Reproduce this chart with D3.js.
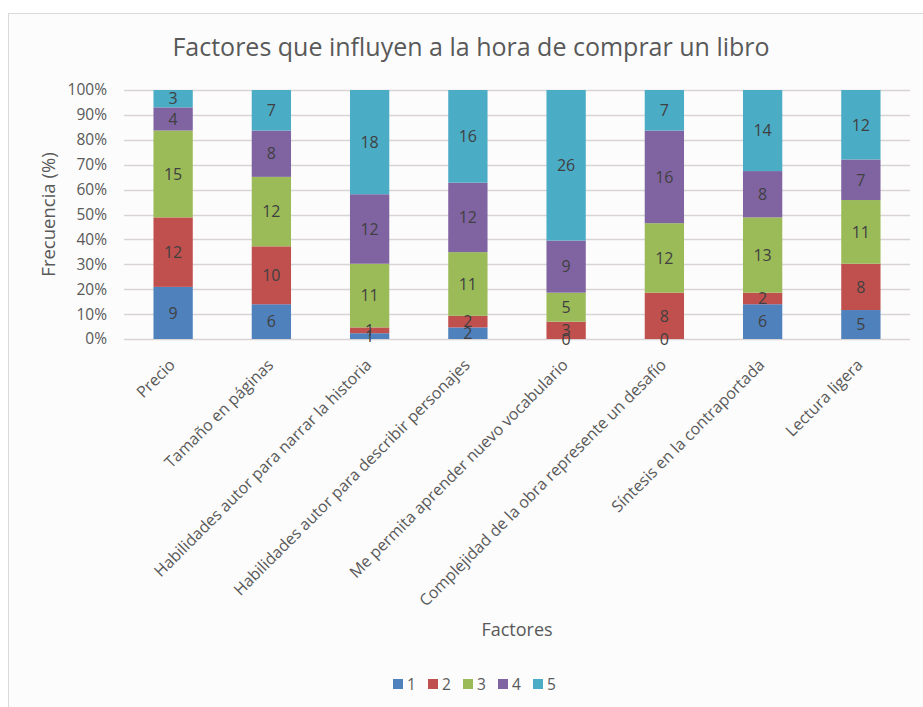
<!DOCTYPE html>
<html>
<head>
<meta charset="utf-8">
<script src="https://cdn.jsdelivr.net/npm/d3@7"></script>
<style>
  body { margin: 0; background: #ffffff; }
  text { font-family: 'Open Sans', sans-serif; }
</style>
</head>
<body>
<div id="chart"></div>
<script>
// categories on the x axis
const factores = [
    'Precio',
    'Tamaño en páginas',
    'Habilidades autor para narrar la historia',
    'Habilidades autor para describir personajes',
    'Me permita aprender nuevo vocabulario',
    'Complejidad de la obra represente un desafío',
    'Síntesis en la contraportada',
    'Lectura ligera'
];

// one array per rating (1 to 5)
const serie1 = [9, 6, 1, 2, 0, 0, 6, 5];
const serie2 = [12, 10, 1, 2, 3, 8, 2, 8];
const serie3 = [15, 12, 11, 11, 5, 12, 13, 11];
const serie4 = [4, 8, 12, 12, 9, 16, 8, 7];
const serie5 = [3, 7, 18, 16, 26, 7, 14, 12];

const seriesNames = ['1', '2', '3', '4', '5'];
const seriesColors = ['#4f81bd', '#c0504d', '#9bbb59', '#8064a2', '#4bacc6'];
const yTicks = [0, 0.1, 0.2, 0.3, 0.4, 0.5, 0.6, 0.7, 0.8, 0.9, 1];

// build rows for d3.stack
let rows = factores.map(function(f, i) {
    return {
        factor: f,
        '1': serie1[i],
        '2': serie2[i],
        '3': serie3[i],
        '4': serie4[i],
        '5': serie5[i]
    };
});

let width = 923,
    height = 707;

let margin = {
    top: 90,
    bottom: 368,
    left: 124,
    right: 13
};

let svg = d3.select('#chart')
            .append('svg')
            .attr('width', width)
            .attr('height', height)
            .style('background', '#ffffff');

// chart area background and border (only left and top edges visible)
svg.append('rect')
    .attr('x', 8.5)
    .attr('y', 13.5)
    .attr('width', width + 20)
    .attr('height', height + 20)
    .attr('fill', '#fcfcfc')
    .attr('stroke', '#d9d9d9')
    .attr('stroke-width', 1);

let stack = d3.stack()
              .keys(seriesNames)
              .offset(d3.stackOffsetExpand);
let stacked = stack(rows);

let xScale = d3.scaleBand()
               .domain(factores)
               .range([margin.left, width - margin.right])
               .paddingInner(0.6)
               .paddingOuter(0.3);

let yScale = d3.scaleLinear()
               .domain([0, 1])
               .range([height - margin.bottom, margin.top]);

let colorScale = d3.scaleOrdinal()
                   .domain(seriesNames)
                   .range(seriesColors);

// gridlines
svg.append('g')
    .selectAll('line')
    .data(yTicks)
    .enter()
    .append('line')
    .attr('x1', margin.left)
    .attr('x2', width - margin.right)
    .attr('y1', d => Math.round(yScale(d)) + 0.5)
    .attr('y2', d => Math.round(yScale(d)) + 0.5)
    .attr('stroke', '#d9d4d4')
    .attr('stroke-width', 1.3);

// y axis tick labels
let yAxis = svg.append('g')
               .attr('transform', `translate(${margin.left}, 0)`)
               .call(d3.axisLeft(yScale)
                       .tickValues(yTicks)
                       .tickFormat(d3.format('.0%'))
                       .tickSize(0)
                       .tickPadding(17));
yAxis.select('.domain').remove();
yAxis.selectAll('text')
     .style('font-size', '15.5px')
     .style('font-family', "'Open Sans', sans-serif")
     .attr('fill', '#595959');

// bars
let layers = svg.append('g')
                .selectAll('g.layer')
                .data(stacked)
                .enter()
                .append('g')
                .attr('class', 'layer')
                .attr('fill', d => colorScale(d.key));

layers.selectAll('rect')
      .data(d => d)
      .enter()
      .append('rect')
      .attr('x', d => xScale(d.data.factor))
      .attr('y', d => yScale(d[1]))
      .attr('width', xScale.bandwidth())
      .attr('height', d => yScale(d[0]) - yScale(d[1]));

// data labels in the middle of each segment
stacked.forEach(function(layer) {
    svg.append('g')
        .selectAll('text')
        .data(layer)
        .enter()
        .append('text')
        .attr('x', d => xScale(d.data.factor) + xScale.bandwidth() / 2)
        .attr('y', d => yScale((d[0] + d[1]) / 2))
        .attr('dy', '0.36em')
        .attr('text-anchor', 'middle')
        .style('font-size', '16px')
        .attr('fill', '#404040')
        .text(d => d.data[layer.key]);
});

// x axis category labels, rotated
svg.append('g')
    .selectAll('text')
    .data(factores)
    .enter()
    .append('text')
    .attr('transform', d => `translate(${xScale(d) + xScale.bandwidth() / 2 + 3}, ${height - margin.bottom + 27}) rotate(-45)`)
    .attr('text-anchor', 'end')
    .style('font-size', '16px')
    .attr('fill', '#595959')
    .text(d => d);

// title
svg.append('text')
    .attr('x', 471)
    .attr('y', 56)
    .attr('text-anchor', 'middle')
    .style('font-size', '25px')
    .attr('fill', '#595959')
    .text('Factores que influyen a la hora de comprar un libro');

// y axis title
svg.append('text')
    .attr('transform', `translate(55, ${(margin.top + height - margin.bottom) / 2}) rotate(-90)`)
    .attr('text-anchor', 'middle')
    .style('font-size', '18.5px')
    .attr('fill', '#595959')
    .text('Frecuencia (%)');

// x axis title
svg.append('text')
    .attr('x', 517)
    .attr('y', 636)
    .attr('text-anchor', 'middle')
    .style('font-size', '18px')
    .attr('fill', '#595959')
    .text('Factores');

// legend
let legend = svg.append('g')
                .attr('transform', 'translate(393, 679)');

let legendItem = legend.selectAll('.legend-item')
                       .data(seriesNames)
                       .enter()
                       .append('g')
                       .attr('class', 'legend-item')
                       .attr('transform', (d, i) => `translate(${i * 35}, 0)`);

legendItem.append('rect')
          .attr('width', 10)
          .attr('height', 10)
          .attr('fill', d => colorScale(d));

legendItem.append('text')
          .attr('x', 14)
          .attr('y', 11)
          .style('font-size', '15.5px')
          .attr('fill', '#595959')
          .text(d => d);
</script>
</body>
</html>
